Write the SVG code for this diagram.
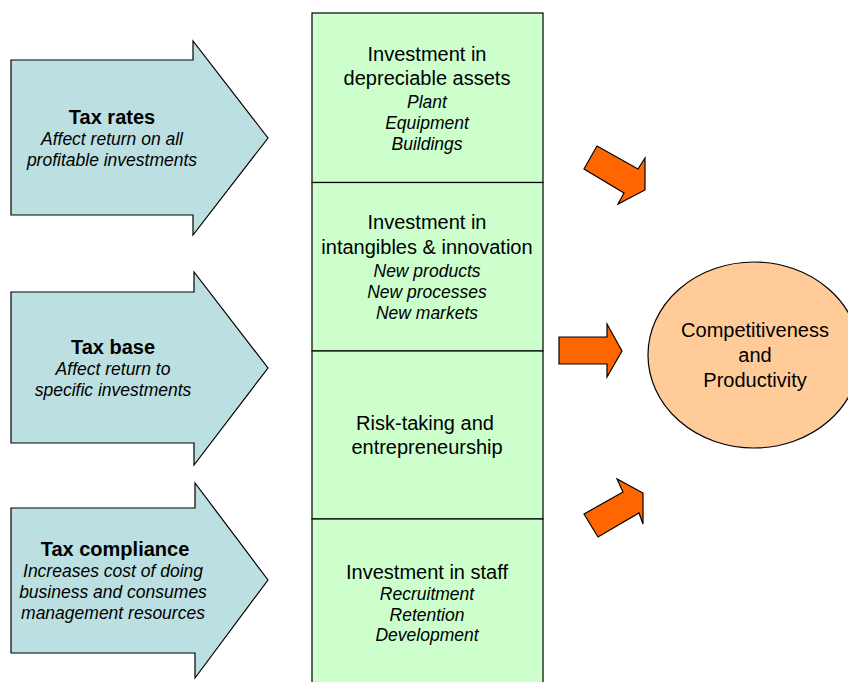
<svg xmlns="http://www.w3.org/2000/svg" width="848" height="682" viewBox="0 0 848 682">
  <style>
    text { font-family: "Liberation Sans", Arial, sans-serif; fill: #000; text-anchor: middle; }
    .head { font-size: 20px; font-weight: bold; }
    .main { font-size: 20px; }
    .sub { font-size: 17.5px; font-style: italic; }
    .lever { fill: #BCE0E2; stroke: #000; stroke-width: 1.2; }
    .block { fill: #CCFFCC; stroke: #000; stroke-width: 1.2; }
    .push { fill: #FF6600; stroke: #000; stroke-width: 1.2; stroke-linejoin: miter; }
    .goal { fill: #FFCC99; stroke: #000; stroke-width: 1.2; }
  </style>
  <rect width="848" height="682" fill="#fff"/>

  <!-- Tax levers (left) -->
  <g id="tax-rates">
    <polygon class="lever" points="11,60 193,60 193,41 268,138 193,235 193,215 11,215"/>
    <text class="head" x="112" y="124">Tax rates</text>
    <text class="sub" x="112" y="145">Affect return on all</text>
    <text class="sub" x="112" y="166">profitable investments</text>
  </g>
  <g id="tax-base">
    <polygon class="lever" points="11,292 194,292 194,272 268,368 194,465 194,443 11,443"/>
    <text class="head" x="113" y="354">Tax base</text>
    <text class="sub" x="113" y="375">Affect return to</text>
    <text class="sub" x="113" y="396">specific investments</text>
  </g>
  <g id="tax-compliance">
    <polygon class="lever" points="11,508 195,508 195,483 268,580 195,678 195,653 11,653"/>
    <text class="head" x="115" y="556">Tax compliance</text>
    <text class="sub" x="113" y="577">Increases cost of doing</text>
    <text class="sub" x="113" y="598">business and consumes</text>
    <text class="sub" x="113" y="619">management resources</text>
  </g>

  <!-- Investment column -->
  <g id="depreciable-assets">
    <rect class="block" x="312" y="13" width="231" height="169.5"/>
    <text class="main" x="427" y="61">Investment in</text>
    <text class="main" x="427" y="85">depreciable assets</text>
    <text class="sub" x="427" y="108">Plant</text>
    <text class="sub" x="427" y="129">Equipment</text>
    <text class="sub" x="427" y="150">Buildings</text>
  </g>
  <g id="intangibles">
    <rect class="block" x="312" y="182.5" width="231" height="168.5"/>
    <text class="main" x="427" y="229">Investment in</text>
    <text class="main" x="427" y="254">intangibles &amp; innovation</text>
    <text class="sub" x="427" y="277">New products</text>
    <text class="sub" x="427" y="298">New processes</text>
    <text class="sub" x="427" y="319">New markets</text>
  </g>
  <g id="risk-taking">
    <rect class="block" x="312" y="351" width="231" height="168"/>
    <text class="main" x="425" y="430">Risk-taking and</text>
    <text class="main" x="427" y="454">entrepreneurship</text>
  </g>
  <g id="staff">
    <rect class="block" x="312" y="519" width="231" height="190"/>
    <text class="main" x="427" y="579">Investment in staff</text>
    <text class="sub" x="427" y="600">Recruitment</text>
    <text class="sub" x="427" y="621">Retention</text>
    <text class="sub" x="427" y="641">Development</text>
  </g>

  <!-- Outcome -->
  <g id="outcome">
    <ellipse class="goal" cx="754" cy="355" rx="106" ry="93"/>
    <text class="main" x="755" y="337">Competitiveness</text>
    <text class="main" x="755" y="362">and</text>
    <text class="main" x="755" y="387">Productivity</text>
  </g>

  <!-- Connectors -->
  <g id="connectors">
    <polygon class="push" points="584,169 597,146 638,169 645,158 645,190 618,204 624,193"/>
    <polygon class="push" points="559,337 607,337 607,324 622,351 607,377 607,364 559,364"/>
    <polygon class="push" points="584,514 623,492 617,479 643,493 643,524 639,513 598,537"/>
  </g>
</svg>
